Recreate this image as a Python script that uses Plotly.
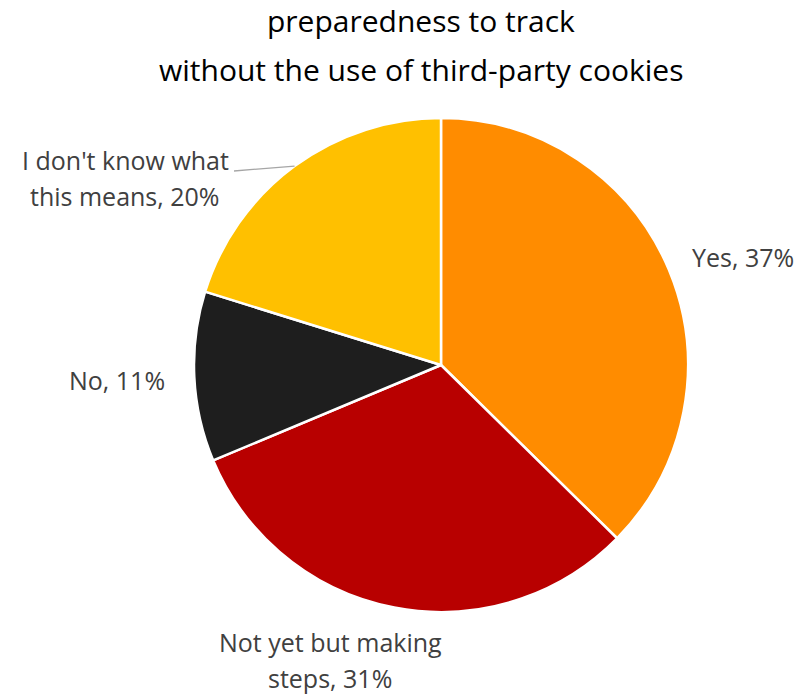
import math
import plotly.graph_objects as go

# Survey answers, clockwise from 12 o'clock
categories = ["Yes", "Not yet but making steps", "No", "I don't know what this means"]
shares = [37, 31, 11, 20]
label_lines = [["Yes, 37%"], ["Not yet but making", "steps, 31%"], ["No, 11%"],
               ["I don't know what", "this means, 20%"]]
title_lines = ["preparedness to track", "without the use of third-party cookies"]
colors = ["#FF8C00", "#B80000", "#1E1E1E", "#FFC000"]

W, H = 808, 696
FONT = "'Open Sans', Lato, sans-serif"
LABEL_SIZE, LABEL_GAP = 25, 36
TITLE_SIZE, TITLE_GAP = 30, 49

# pie geometry in pixels
cx, cy, R = 441, 365, 247


def px(x):
    return x / W


def py(y):
    return 1 - y / H


fig = go.Figure(go.Pie(
    labels=categories,
    values=shares,
    sort=False,
    direction="clockwise",
    rotation=0,
    marker=dict(colors=colors, line=dict(color="white", width=2.5)),
    textinfo="none",
    hoverinfo="label+percent",
    showlegend=False,
    domain=dict(x=[px(cx - R), px(cx + R)], y=[py(cy + R), py(cy - R)]),
))

# label placement (pixel centres of the text blocks)
label_pos = [(743, 257), (330, 660), (117, 380), (125, 178)]

annotations = []


def text_block(lines, x, y, size, gap, color):
    y0 = y - gap * (len(lines) - 1) / 2
    for k, line in enumerate(lines):
        annotations.append(dict(
            x=px(x), y=py(y0 + k * gap), xref="paper", yref="paper",
            xanchor="center", yanchor="middle", text=line, showarrow=False,
            font=dict(family=FONT, size=size, color=color),
        ))


total = sum(shares)
start = 0.0
for i, (v, lines) in enumerate(zip(shares, label_lines)):
    mid = (start + v / 2) / total * 2 * math.pi
    start += v
    lx, ly = label_pos[i]
    text_block(lines, lx, ly, LABEL_SIZE, LABEL_GAP, "#404040")
    if i == 3:
        # leader line from the label to the slice edge at its mid-angle
        tx = cx + R * math.sin(mid)
        ty = cy - R * math.cos(mid)
        fig.add_shape(type="line", xref="paper", yref="paper",
                      x0=px(234), y0=py(171), x1=px(tx), y1=py(ty),
                      line=dict(color="#A6A6A6", width=1.3))

text_block(title_lines, 421, 45.5, TITLE_SIZE, TITLE_GAP, "#000000")

fig.update_layout(
    width=W, height=H,
    margin=dict(l=0, r=0, t=0, b=0),
    paper_bgcolor="white",
    plot_bgcolor="white",
    annotations=annotations,
)

fig.write_html("out.html")
